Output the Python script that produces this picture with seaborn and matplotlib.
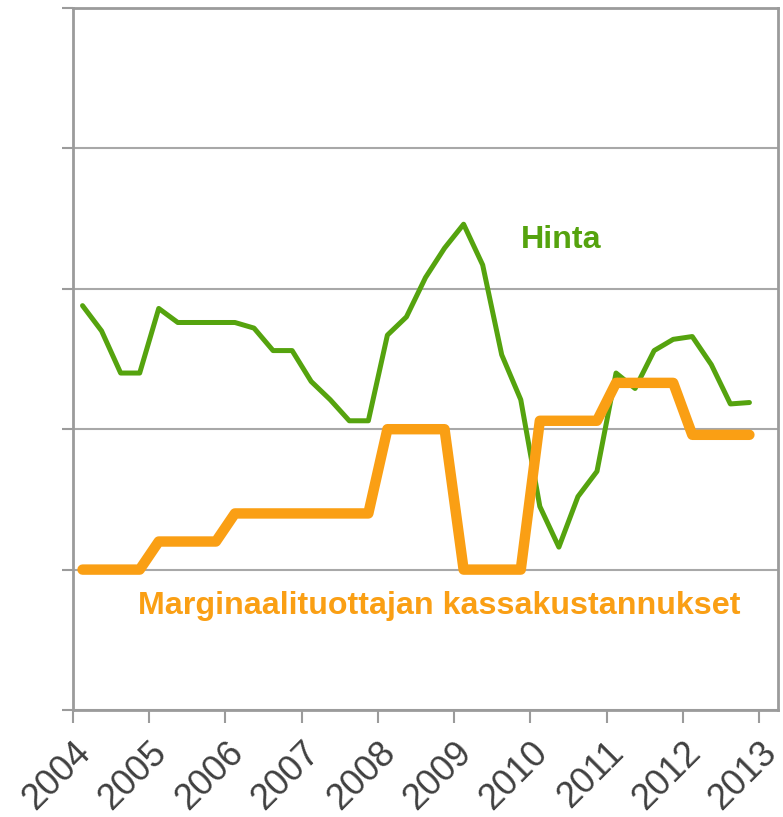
import matplotlib
matplotlib.use('Agg')
import matplotlib.pyplot as plt
import pandas as pd
import seaborn as sns

# quarterly data 2004Q1 - 2012Q4
years = [2004, 2005, 2006, 2007, 2008, 2009, 2010, 2011, 2012]
quarters = [f'{y}Q{q}' for y in years for q in range(1, 5)]

hinta = [288, 270, 240, 240, 286, 276, 276, 276,
         276, 272, 256, 256, 234, 221, 206, 206,
         267, 280, 308, 329, 346, 317, 253, 221,
         145, 116, 152, 170, 240, 229, 256, 264,
         266, 246, 218, 219]
kassakust = [100, 100, 100, 100, 120, 120, 120, 120,
             140, 140, 140, 140, 140, 140, 140, 140,
             200, 200, 200, 200, 100, 100, 100, 100,
             206, 206, 206, 206, 233, 233, 233, 233,
             196, 196, 196, 196]
year_ticks = [2004, 2005, 2006, 2007, 2008, 2009, 2010, 2011, 2012, 2013]

df = pd.DataFrame({
    'quarter': quarters,
    'Hinta': hinta,
    'Marginaalituottajan kassakustannukset': kassakust,
})
# place each quarter at its midpoint on a decimal year axis
df['t'] = [int(q[:4]) + (int(q[-1]) - 1) * 0.25 + 0.125 for q in df['quarter']]

green = '#55A30E'
orange = '#FA9F14'
grey = '#9B9B9B'

sns.set_style('white')
plt.rcParams['font.family'] = ['Liberation Sans', 'DejaVu Sans']

fig = plt.figure(figsize=(7.83, 8.17), dpi=100)
ax = fig.add_axes([73 / 783, 1 - 710 / 817, 705 / 783, 702 / 817])

sns.lineplot(data=df, x='t', y='Hinta', color=green, linewidth=3.6, ax=ax)
sns.lineplot(data=df, x='t', y='Marginaalituottajan kassakustannukset',
             color=orange, linewidth=7.5, ax=ax, solid_capstyle='round',
             solid_joinstyle='round')

ax.set_xlim(2004, 2013.25)
ax.set_ylim(0, 500)
ax.set_yticks([0, 100, 200, 300, 400, 500])
ax.set_yticklabels([])
ax.set_xticks(year_ticks)
ax.set_xticklabels([str(y) for y in year_ticks], rotation=45, ha='right',
                   rotation_mode='anchor', fontsize=26, color='#404040')
ax.tick_params(axis='x', bottom=True, length=9, width=1.5, color=grey, pad=9)
ax.tick_params(axis='y', left=True, length=8, width=1.5, color=grey)
ax.yaxis.grid(True, color='#A8A8A8', linewidth=1.5)
ax.set_axisbelow(True)
for s in ax.spines.values():
    s.set_color(grey)
    s.set_linewidth(2)
ax.set_xlabel('')
ax.set_ylabel('')

ax.text(2010.4, 335, 'Hinta', color=green, fontsize=23.2, fontweight='bold',
        ha='center', va='center')
ax.text(2008.8, 74, 'Marginaalituottajan kassakustannukset', color=orange,
        fontsize=23.2, fontweight='bold', ha='center', va='center')

fig.savefig('out.png', dpi=100)
